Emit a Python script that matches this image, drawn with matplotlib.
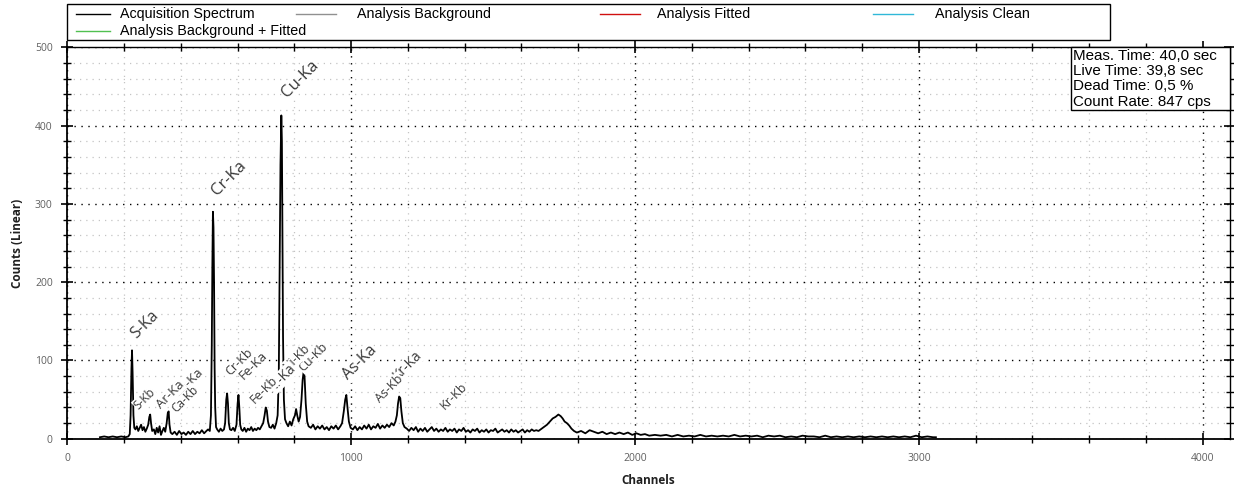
import matplotlib

matplotlib.use("Agg")
import matplotlib.pyplot as plt
from matplotlib.lines import Line2D
from matplotlib.patches import Rectangle
from matplotlib.ticker import MultipleLocator

plt.rcParams["font.family"] = ["Liberation Sans", "DejaVu Sans"]

# spectrum: channel, counts
channels = [
    115, 130, 145, 160, 175, 190, 205, 215, 220,
    223, 226, 228, 230, 233, 236,
    240, 245, 250, 255, 260, 265, 270, 275, 280,
    285, 289, 292, 295, 299,
    305, 310, 315, 320, 325, 330, 335, 340, 345, 350, 354, 357, 360, 364,
    370, 378, 386, 394, 402, 410, 418, 426, 434, 442, 450, 458, 466, 474, 482, 490, 496, 502,
    506, 509, 511, 513, 515, 517, 519, 521, 524,
    528, 534, 540, 546, 552, 556, 560, 563, 566, 569, 573,
    578, 584, 590, 596, 600, 603, 606, 609, 613,
    618, 624, 630, 636, 642, 648, 654, 660, 666, 672, 678, 684, 690, 695, 699, 703, 707, 712,
    718, 724, 730, 736, 741, 745, 748, 751, 754, 756, 758, 760, 763, 767,
    772, 778, 784, 790, 796, 802, 806, 810, 815, 820, 825, 829, 833, 836, 840, 845, 850,
    858, 866, 874, 882, 890, 898, 906, 914, 922, 930, 938, 946, 954, 962, 968, 974, 979, 983,
    987, 992, 998,
    1006, 1014, 1022, 1030, 1038, 1046, 1054, 1062, 1070, 1078, 1086, 1094, 1102, 1110, 1118,
    1126, 1134, 1142, 1150, 1156, 1161, 1165, 1169, 1173, 1177, 1182, 1188,
    1196, 1204, 1212, 1220, 1228, 1236, 1244, 1252, 1260, 1268, 1276, 1284, 1292, 1300, 1308,
    1316, 1324, 1332, 1340, 1348, 1356, 1364, 1372, 1380, 1388, 1396, 1404, 1412, 1420, 1428,
    1436, 1444, 1452, 1460, 1468, 1476, 1484, 1492, 1500, 1508, 1516, 1524, 1532, 1540, 1548,
    1556, 1564, 1572, 1580, 1588, 1596, 1604, 1612, 1620, 1628, 1636, 1644, 1652,
    1660, 1675, 1690, 1700, 1710, 1720, 1730, 1738, 1745, 1752, 1760, 1768, 1776, 1785, 1795,
    1810, 1825, 1840, 1855, 1870, 1885, 1900, 1915, 1930, 1945, 1960, 1975, 1990, 2005, 2020,
    2035, 2050, 2070, 2090, 2110, 2130, 2150, 2170, 2190, 2210, 2230, 2250, 2270, 2290, 2310,
    2330, 2350, 2370, 2390, 2410, 2430, 2450, 2470, 2490, 2510, 2530, 2550, 2570, 2590, 2610,
    2630, 2650, 2670, 2690, 2710, 2730, 2750, 2770, 2790, 2810, 2830, 2850, 2870, 2890, 2910,
    2930, 2950, 2970, 2990, 3010, 3030, 3050, 3060,
]
counts = [
    2, 3, 2, 3, 2, 3, 2, 3, 6,
    30, 90, 113, 85, 30, 14,
    12, 16, 10, 14, 18, 11, 15, 9, 13,
    18, 28, 31, 20, 10,
    12, 6, 14, 8, 16, 5, 10, 14, 9, 20, 33, 35, 18, 8,
    6, 9, 5, 10, 6, 8, 5, 9, 6, 10, 6, 9, 7, 11, 7, 10, 12, 10,
    30, 120, 220, 290, 270, 200, 90, 40, 15,
    12, 9, 13, 10, 12, 20, 50, 58, 45, 20, 12,
    11, 14, 10, 18, 45, 56, 40, 18, 12,
    10, 14, 9, 13, 11, 15, 10, 13, 11, 14, 12, 16, 20, 30, 40, 36, 22, 15,
    14, 18, 13, 20, 30, 80, 220, 350, 413, 380, 260, 130, 50, 25,
    20, 16, 22, 17, 25, 30, 38, 30, 22, 28, 50, 75, 87, 78, 45, 22, 16,
    14, 18, 12, 16, 13, 17, 12, 15, 11, 16, 13, 17, 12, 16, 20, 35, 50, 56,
    40, 22, 14,
    12, 16, 11, 15, 12, 17, 13, 18, 12, 16, 14, 19, 13, 17, 14,
    18, 15, 20, 17, 22, 30, 45, 54, 52, 35, 20, 15,
    13, 10, 14, 11, 15, 9, 13, 10, 14, 9, 12, 15, 10, 13, 9,
    12, 10, 14, 9, 12, 10, 13, 8, 12, 10, 14, 9, 11, 8, 12,
    10, 13, 8, 11, 9, 12, 8, 11, 10, 13, 8, 10, 12, 9, 11,
    8, 12, 9, 11, 8, 10, 12, 8, 11, 9, 12, 10, 11,
    10, 14, 18, 22, 26, 28, 31, 29, 26, 22, 20, 17, 13, 10, 8,
    10, 7, 11, 9, 7, 9, 6, 8, 6, 8, 6, 8, 5, 7, 5,
    6, 4, 5, 4, 5, 3, 5, 3, 4, 3, 5, 3, 4, 3, 4,
    3, 5, 3, 4, 3, 4, 2, 4, 3, 4, 2, 3, 2, 4, 3,
    3, 2, 4, 2, 3, 2, 3, 2, 3, 2, 3, 2, 3, 2, 3,
    2, 3, 2, 4, 2, 3, 2, 2,
]

# peak labels: text, channel, counts, font size (order = drawing order)
peak_labels = [
    ("S-Ka", 242, 128, 11.5),
    ("Cr-Ka", 526, 310, 12),
    ("Cu-Ka", 774, 435, 12),
    ("Ca-Ka", 392, 52, 9.5),
    ("S-Kb", 251, 37, 8.5),
    ("Ca-Kb", 385, 33, 8.5),
    ("Ar-Ka", 330, 38, 9.5),
    ("Fe-Ka", 622, 75, 9.5),
    ("Cr-Kb", 573, 80, 9),
    ("Cu-Kb", 830, 85, 9),
    ("Ni-Kb", 777, 86, 9),
    ("Ni-Ka", 720, 58, 10),
    ("Fe-Kb", 661, 44, 9),
    ("As-Ka", 990, 75, 11.5),
    ("Kr-Ka", 1165, 75, 10),
    ("As-Kb", 1101, 46, 9),
    ("Kr-Kb", 1330, 37, 9),
]

legend_entries = [
    ("Acquisition Spectrum", "black"),
    ("Analysis Background", "#909090"),
    ("Analysis Fitted", "#d01010"),
    ("Analysis Clean", "#30b8d8"),
    ("Analysis Background + Fitted", "#50c050"),
]
info_lines = [
    "Meas. Time: 40,0 sec",
    "Live Time: 39,8 sec",
    "Dead Time: 0,5 %",
    "Count Rate: 847 cps",
]

W, H = 1234, 490


def fpx(x, y):
    return x / W, 1 - y / H


fig = plt.figure(figsize=(W / 100, H / 100), dpi=100)
ax = fig.add_axes([67.3 / W, 1 - 438.8 / H, (1230 - 67.3) / W, (438.8 - 47.3) / H])

ax.plot(channels, counts, color="black", linewidth=1.3, zorder=3)

ax.set_xlim(0, 4096)
ax.set_ylim(0, 500)
ax.xaxis.set_major_locator(MultipleLocator(1000))
ax.xaxis.set_minor_locator(MultipleLocator(200))
ax.yaxis.set_major_locator(MultipleLocator(100))
ax.yaxis.set_minor_locator(MultipleLocator(20))

ax.grid(True, which="major", color="black", linestyle=(0, (1, 4)), linewidth=1.0)
ax.grid(True, which="minor", color="#c4c4c4", linestyle=(0, (1, 4)), linewidth=0.9)
ax.set_axisbelow(True)

ax.tick_params(which="major", direction="inout", length=9, width=1.2,
               labelsize=7.5, labelcolor="#606060", top=True, right=True)
ax.tick_params(which="minor", direction="inout", length=6, width=1.0,
               top=True, right=True)
ax.tick_params(axis="x", which="major", pad=6)
ax.tick_params(axis="y", which="major", pad=6)
for side in ["top", "right"]:
    ax.spines[side].set_linewidth(1.0)
for side in ["left", "bottom"]:
    ax.spines[side].set_linewidth(1.3)

ax.set_xlabel("Channels", fontsize=8.5, fontweight="bold", family="Open Sans", color="#202020")
ax.set_ylabel("Counts (Linear)", fontsize=8.5, fontweight="bold", family="Open Sans", color="#202020")
ax.xaxis.set_label_coords(0.5, -0.09)
ax.yaxis.set_label_coords(-0.037, 0.5)
for lbl in ax.get_xticklabels() + ax.get_yticklabels():
    lbl.set_family("Open Sans")

for text, ch, cnt, size in peak_labels:
    ax.text(ch, cnt, text, rotation=45, rotation_mode="anchor", ha="left", va="baseline",
            fontsize=size, color="#3a3a3a", family="Open Sans", zorder=4,
            bbox=dict(facecolor="white", edgecolor="none", pad=0.3))

# info box in the upper right corner
fig.add_artist(Rectangle(fpx(1071, 110), (1230 - 1071) / W, (110 - 47.3) / H,
                         transform=fig.transFigure, facecolor="white",
                         edgecolor="black", linewidth=1.0, zorder=5))
for i, line in enumerate(info_lines):
    fig.text(*fpx(1073, 56 + 15.2 * i), line, fontsize=10.9, va="center", ha="left", zorder=6)

# legend box above the plot
fig.add_artist(Rectangle(fpx(67.3, 40), (1110 - 67.3) / W, (40 - 4) / H,
                         transform=fig.transFigure, facecolor="white",
                         edgecolor="black", linewidth=1.0))
legend_slots = [(76, 34, 120, 14), (296, 40, 357, 14), (600, 40, 657, 14),
                (873, 40, 935, 14), (76, 34, 120, 31)]
for (label, color), (x0, length, xt, y0) in zip(legend_entries, legend_slots):
    xa, ya = fpx(x0, y0)
    xb, _ = fpx(x0 + length, y0)
    fig.add_artist(Line2D([xa, xb], [ya, ya], transform=fig.transFigure, color=color, linewidth=1.0))
    fig.text(*fpx(xt, y0), label, fontsize=10.3, va="center", ha="left")

fig.savefig("out.png", dpi=100)
